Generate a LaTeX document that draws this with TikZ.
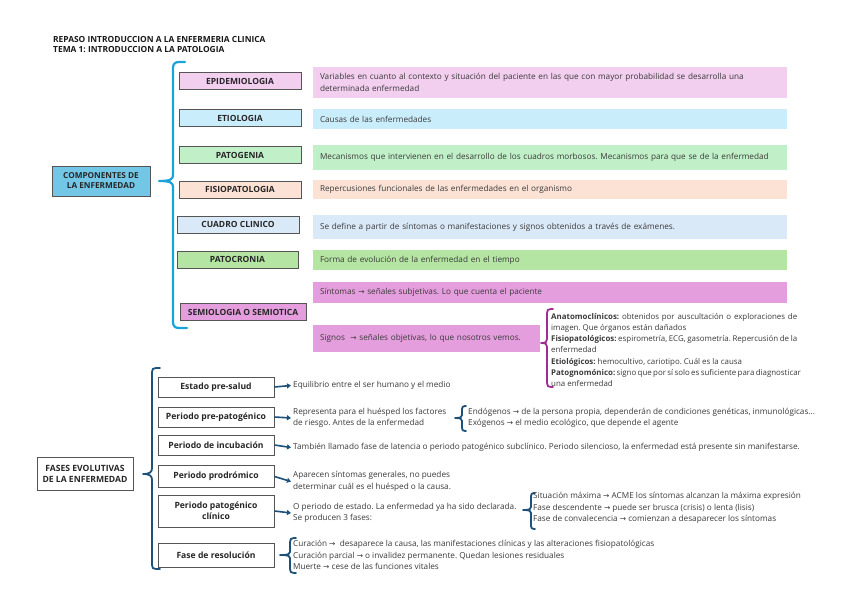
\documentclass[tikz,border=0pt]{standalone}
\usepackage{fontspec}
\setmainfont{Open Sans}
\newfontfamily\arrfont{DejaVu Sans}
\newcommand\arr{{\arrfont\fontsize{7.5}{8}\selectfont →}}
\usetikzlibrary{arrows.meta}
\frenchspacing
\definecolor{cpink}{HTML}{F2CEEF}
\definecolor{cltblue}{HTML}{CAEDFB}
\definecolor{cgreen}{HTML}{C1F0C8}
\definecolor{cpeach}{HTML}{FBE2D5}
\definecolor{cgrayblue}{HTML}{DAE9F8}
\definecolor{cgreen2}{HTML}{B4E5A2}
\definecolor{cpurple}{HTML}{E59EDD}
\definecolor{ccomp}{HTML}{72C7E7}
\definecolor{ccyan}{HTML}{1AA3DA}
\definecolor{cnavy}{HTML}{1D5179}
\definecolor{cbrpurple}{HTML}{A02B93}
\definecolor{cborder}{HTML}{555555}
\definecolor{ctext}{HTML}{3A3A3A}
\begin{document}
\begin{tikzpicture}[x=1pt,y=-1pt,
  lab/.style={draw=cborder, line width=1pt, font=\fontsize{8.5}{9}\selectfont\bfseries, text=black!85, inner sep=0pt, minimum width=122, minimum height=17, align=center},
  desc/.style={inner xsep=7pt, inner ysep=0pt, minimum width=474, text width=460, minimum height=20, align=left, font=\fontsize{8.2}{12}\selectfont, text=ctext},
  blab/.style={draw=cborder, fill=white, line width=0.9pt, font=\fontsize{8.6}{10}\selectfont\bfseries, text=black!85, inner sep=0pt, minimum width=116, minimum height=20, align=center},
  btxt/.style={anchor=west, inner sep=0pt, align=left, font=\fontsize{8.2}{11.5}\selectfont, text=ctext},
  navyarrow/.style={draw=cnavy, line width=1.6pt, -{Triangle[length=4pt,width=5pt]}},
  cyanbrace/.style={draw=ccyan, line width=2.2pt, line cap=round, line join=round},
  navybrace/.style={draw=cnavy, line width=1.8pt, line cap=round, line join=round},
  purplebrace/.style={draw=cbrpurple, line width=1.8pt, line cap=round, line join=round}
]
\useasboundingbox[fill=white] (0,0) rectangle (848,599);

% title
\node[anchor=north west, inner sep=0pt, align=left, font=\fontsize{8.4}{10}\selectfont\bfseries, text=black!90] (title) at (53,36) {REPASO INTRODUCCION A LA ENFERMERIA CLINICA\\TEMA 1: INTRODUCCION A LA PATOLOGIA};

% ---------- top section ----------
\node[draw=cborder, line width=1pt, fill=ccomp, minimum width=98, minimum height=30, inner sep=0pt, align=center, font=\fontsize{8.2}{10}\selectfont\bfseries, text=black!85] (comp) at (101,181) {COMPONENTES DE\\LA ENFERMEDAD};

\draw[cyanbrace] (185,62) -- (179,62) .. controls (175,62) and (173,64) .. (173,68) -- (173,175)
  .. controls (173,179) and (171,181) .. (159,181)
  .. controls (171,181) and (173,183) .. (173,187) -- (173,322)
  .. controls (173,326) and (175,328) .. (179,328) -- (187,328);

\node[lab, fill=cpink] (epi) at (240,81.5) {EPIDEMIOLOGIA};
\node[lab, fill=cltblue] (etio) at (240,118) {ETIOLOGIA};
\node[lab, fill=cgreen] (patog) at (240,155) {PATOGENIA};
\node[lab, fill=cpeach] (fisio) at (240,189.5) {FISIOPATOLOGIA};
\node[lab, fill=cgrayblue] (cuadro) at (238,224.5) {CUADRO CLINICO};
\node[lab, fill=cgreen2, minimum width=121] (patocr) at (237.5,259.5) {PATOCRONIA};
\node[lab, fill=cpurple, minimum width=126] (semio) at (243,312) {SEMIOLOGIA O SEMIOTICA};

\node[desc, fill=cpink, minimum height=31] (epid) at (550,82.5) {Variables en cuanto al contexto y situación del paciente en las que con mayor probabilidad se desarrolla una\\determinada enfermedad};
\node[desc, fill=cltblue] (etiod) at (550,119) {Causas de las enfermedades};
\node[desc, fill=cgreen, minimum height=25] (patogd) at (550,157.5) {Mecanismos que intervienen en el desarrollo de los cuadros morbosos. Mecanismos para que se de la enfermedad\\[2pt]};
\node[desc, fill=cpeach, minimum height=19] (fisiod) at (550,189.5) {Repercusiones funcionales de las enfermedades en el organismo};
\node[desc, fill=cgrayblue, minimum height=24] (cuadrod) at (550,227) {Se define a partir de síntomas o manifestaciones y signos obtenidos a través de exámenes.\\[2pt]};
\node[desc, fill=cgreen2] (patocrd) at (550,260) {Forma de evolución de la enfermedad en el tiempo};
\node[desc, fill=cpurple, minimum height=21] (sint) at (550,292.5) {Síntomas \arr\ señales subjetivas. Lo que cuenta el paciente};
\node[desc, fill=cpurple, minimum width=227, text width=213, minimum height=27] (signos) at (426.5,338.5) {Signos\ \ \arr\ señales objetivas, lo que nosotros vemos.};

\draw[purplebrace] (553,309) -- (551,309) .. controls (548,309) and (547,310) .. (547,313) -- (547,339)
  .. controls (547,342) and (546,343) .. (541,343)
  .. controls (546,343) and (547,344) .. (547,347) -- (547,383)
  .. controls (547,386) and (548,387) .. (551,387) -- (553,387);

\node[anchor=north west, inner sep=0pt, align=left, font=\fontsize{7.9}{11.2}\selectfont, text=ctext] (signosd) at (551,313) {%
\makebox[246pt][s]{\textbf{Anatomoclínicos:} obtenidos por auscultación o exploraciones de}\\
imagen. Que órganos están dañados\\
\makebox[246pt][s]{\textbf{Fisiopatológicos:} espirometría, ECG, gasometría. Repercusión de la}\\
enfermedad\\
\textbf{Etiológicos:} hemocultivo, cariotipo. Cuál es la causa\\
\makebox[246pt][s]{\textbf{Patognomónico:} signo que por sí solo es suficiente para diagnosticar}\\
una enfermedad};

% ---------- bottom section ----------
\node[draw=cborder, fill=white, line width=0.9pt, minimum width=96, minimum height=33, inner sep=0pt, align=center, font=\fontsize{8.6}{10.5}\selectfont\bfseries, text=black!85] (fases) at (85,474) {FASES EVOLUTIVAS\\DE LA ENFERMEDAD};

\draw[navybrace] (160,368) -- (156,368) .. controls (153,368) and (152,369) .. (152,372) -- (152,468)
  .. controls (152,472) and (150,474) .. (143,474)
  .. controls (150,474) and (152,476) .. (152,480) -- (152,565)
  .. controls (152,568) and (153,569) .. (156,569) -- (160,569);

\node[blab] (estado) at (216,387) {Estado pre-salud};
\node[blab] (prepat) at (216,417) {Periodo pre-patogénico};
\node[blab] (incub) at (216,445) {Periodo de incubación};
\node[blab, minimum height=22] (prodr) at (216,476.5) {Periodo prodrómico};
\node[blab, minimum height=32, font=\fontsize{8.6}{11}\selectfont\bfseries] (patcl) at (216,511) {Periodo patogénico\\clínico};
\node[blab, minimum height=24] (resol) at (216,555) {Fase de resolución};

\node[btxt] (estadot) at (293,385.5) {Equilibrio entre el ser humano y el medio};
\node[btxt] (prepatt) at (293,418) {Representa para el huésped los factores\\de riesgo. Antes de la enfermedad};
\node[btxt] (incubt) at (293,447.5) {También llamado fase de latencia o periodo patogénico subclínico. Periodo silencioso, la enfermedad está presente sin manifestarse.};
\node[btxt] (prodrt) at (293,481.5) {Aparecen síntomas generales, no puedes\\determinar cuál es el huésped o la causa.};
\node[btxt] (patclt) at (293,513) {O periodo de estado. La enfermedad ya ha sido declarada.\\Se producen 3 fases:};

\draw[navyarrow] (estado.east) -- (estadot.west -| 291,387);
\draw[navyarrow] (prepat.east) -- (prepatt.west -| 291,417);
\draw[navyarrow] (incub.east) -- (incubt.west -| 291,445);
\draw[navyarrow] (prodr.east) -- (prodrt.west -| 291,476.5);
\draw[navyarrow] (patcl.east) -- (patclt.west -| 291,511);

% pre-patogenico sub brace
\draw[navybrace] (466,406) -- (465,406) .. controls (463,406) and (462,407) .. (462,409) -- (462,415)
  .. controls (462,417) and (461,418) .. (455,418)
  .. controls (461,418) and (462,419) .. (462,421) -- (462,428)
  .. controls (462,430) and (463,431) .. (465,431) -- (466,431);
\node[btxt] (endo) at (468,418) {Endógenos \arr\ de la persona propia, dependerán de condiciones genéticas, inmunológicas...\\Exógenos \arr\ el medio ecológico, que depende el agente};

% patogenico clinico sub brace
\draw[navybrace] (535,493) -- (534,493) .. controls (532,493) and (531,494) .. (531,496) -- (531,507)
  .. controls (531,509) and (530,510) .. (523,510)
  .. controls (530,510) and (531,511) .. (531,513) -- (531,526)
  .. controls (531,528) and (532,529) .. (534,529) -- (535,529);
\node[btxt, font=\fontsize{8.2}{11.8}\selectfont] (fasest) at (533,508) {Situación máxima \arr\ ACME los síntomas alcanzan la máxima expresión\\Fase descendente \arr\ puede ser brusca (crisis) o lenta (lisis)\\Fase de convalecencia \arr\ comienzan a desaparecer los síntomas};

% resolucion brace
\draw[navybrace] (296,538) -- (294,538) .. controls (291,538) and (290,539) .. (290,542) -- (290,552)
  .. controls (290,554) and (289,555) .. (280,555)
  .. controls (289,555) and (290,556) .. (290,558) -- (290,569)
  .. controls (290,572) and (291,573) .. (294,573) -- (296,573);
\node[btxt, font=\fontsize{8.2}{11.8}\selectfont] (resolt) at (293,555) {Curación \arr\ \ desaparece la causa, las manifestaciones clínicas y las alteraciones fisiopatológicas\\Curación parcial \arr\ o invalidez permanente. Quedan lesiones residuales\\Muerte \arr\ cese de las funciones vitales};
\end{tikzpicture}
\end{document}
